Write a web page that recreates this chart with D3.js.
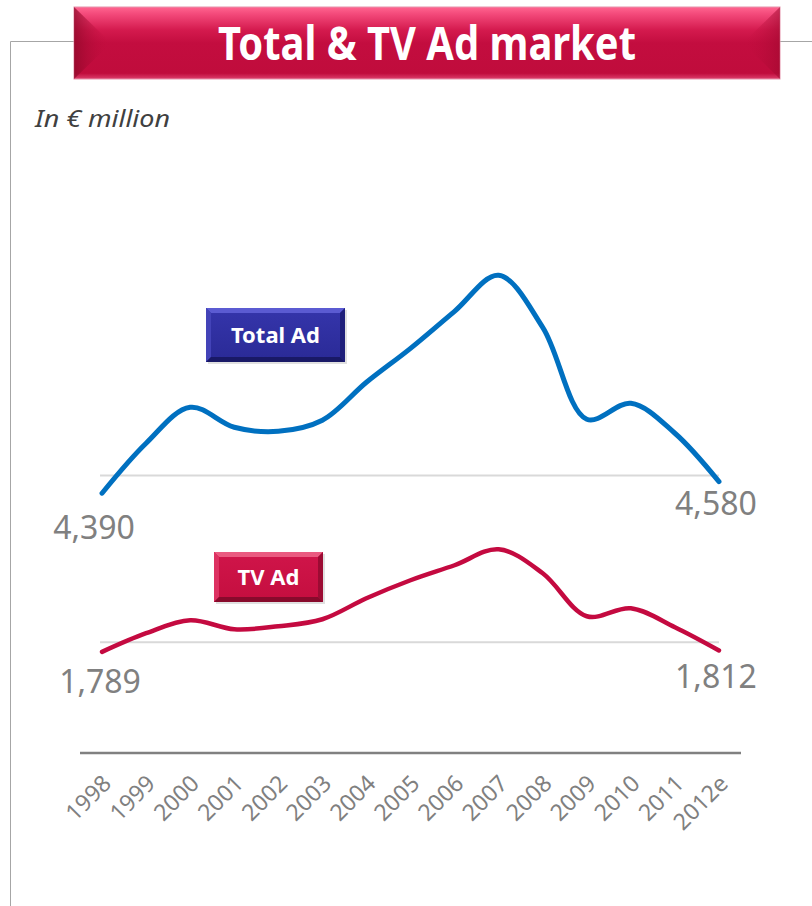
<!DOCTYPE html>
<html>
<head>
<meta charset="utf-8">
<script src="https://cdn.jsdelivr.net/npm/d3@7"></script>
<style>
  html, body { margin: 0; padding: 0; background: #ffffff; }
  svg { display: block; }
</style>
</head>
<body>
<script>
// Years on the horizontal axis (2012 is an estimate)
const years = ["1998", "1999", "2000", "2001", "2002", "2003", "2004", "2005",
               "2006", "2007", "2008", "2009", "2010", "2011", "2012e"];

// Advertising spend, in € million
const totalAd = [4390, 5209, 5799, 5471, 5405, 5586, 6208, 6765,
                 7372, 7962, 7110, 5602, 5864, 5373, 4580];
const tvAd    = [1789, 2095, 2308, 2160, 2209, 2324, 2668, 2963,
                 3209, 3471, 3078, 2373, 2504, 2193, 1812];

// Reference level drawn under each series
const baselineValues = [4680, 1945];

const seriesNames = ["Total Ad", "TV Ad"];
const titleText = "Total & TV Ad market";
const unitText = "In € million";

const W = 812, H = 906;
const svg = d3.select("body").append("svg")
  .attr("width", W).attr("height", H)
  .attr("viewBox", `0 0 ${W} ${H}`);

const defs = svg.append("defs");
function vGrad(id, stops) {
  const g = defs.append("linearGradient").attr("id", id)
    .attr("x1", 0).attr("y1", 0).attr("x2", 0).attr("y2", 1);
  stops.forEach(([o, c, a]) => g.append("stop").attr("offset", o)
    .attr("stop-color", c).attr("stop-opacity", a == null ? 1 : a));
}
function hGrad(id, stops) {
  const g = defs.append("linearGradient").attr("id", id)
    .attr("x1", 0).attr("y1", 0).attr("x2", 1).attr("y2", 0);
  stops.forEach(([o, c, a]) => g.append("stop").attr("offset", o)
    .attr("stop-color", c).attr("stop-opacity", a == null ? 1 : a));
}
vGrad("bannerFace", [[0, "#ff6590"], [0.1, "#f3497a"], [0.32, "#d41a4e"],
                     [0.5, "#c30d3f"], [0.92, "#c00c3c"], [1, "#dc3f6c"]]);
hGrad("bannerLeft", [[0, "#8e0829", 0.75], [1, "#c00c3c", 0]]);
hGrad("bannerRight", [[0, "#c00c3c", 0], [1, "#a0092f", 0.6]]);
vGrad("blueFace", [[0, "#3535ab"], [1, "#2a2a96"]]);
vGrad("redFace", [[0, "#d0154a"], [1, "#c40e3f"]]);

// ---- frame lines ----
svg.append("path")
  .attr("d", `M10.5,${H} V41.5 H${W}`)
  .attr("fill", "none").attr("stroke", "#a6a6a6").attr("stroke-width", 1);

// ---- title banner ----
const bn = { x0: 74, x1: 780, y0: 7, y1: 79, bev: 34 };
const banner = svg.append("g");
banner.append("rect")
  .attr("x", bn.x0).attr("y", bn.y0)
  .attr("width", bn.x1 - bn.x0).attr("height", bn.y1 - bn.y0)
  .attr("fill", "url(#bannerFace)")
  .attr("stroke", "#e693ab").attr("stroke-width", 1);
const midY = (bn.y0 + bn.y1) / 2;
banner.append("polygon")
  .attr("points", [[bn.x0, bn.y0], [bn.x0 + bn.bev, midY - 3], [bn.x0 + bn.bev, midY + 3], [bn.x0, bn.y1]].join(" "))
  .attr("fill", "url(#bannerLeft)");
banner.append("polygon")
  .attr("points", [[bn.x1, bn.y0], [bn.x1 - bn.bev, midY - 3], [bn.x1 - bn.bev, midY + 3], [bn.x1, bn.y1]].join(" "))
  .attr("fill", "url(#bannerRight)");
banner.append("text")
  .attr("x", (bn.x0 + bn.x1) / 2).attr("y", 60)
  .attr("text-anchor", "middle")
  .attr("font-family", "'Noto Sans', 'Open Sans', sans-serif")
  .attr("font-weight", "bold").attr("font-size", 46)
  .attr("fill", "#ffffff")
  .attr("textLength", 418).attr("lengthAdjust", "spacingAndGlyphs")
  .text(titleText);

// ---- unit note ----
svg.append("text")
  .attr("x", 35).attr("y", 127)
  .attr("font-family", "'Noto Sans', 'Open Sans', sans-serif")
  .attr("font-style", "italic").attr("font-size", 23)
  .attr("fill", "#404040")
  .attr("textLength", 135).attr("lengthAdjust", "spacingAndGlyphs")
  .text(unitText);

// ---- scales ----
const x = d3.scalePoint().domain(years).range([80, 741]).padding(0.5);
const y = d3.scaleLinear().domain([0, 8000]).range([761, 273]);

const series = [
  { name: seriesNames[0], values: totalAd, base: baselineValues[0],
    color: "#0070c0", width: 5,
    box: { x: 206, y: 308, w: 139, h: 54, face: "url(#blueFace)",
           top: "#5b5bd2", left: "#4343b8", right: "#1f1f7a", bottom: "#191966" },
    startLabel: { dx: -8, dy: 46 }, endLabel: { dx: -3, dy: 33 } },
  { name: seriesNames[1], values: tvAd, base: baselineValues[1],
    color: "#c40a40", width: 4.5,
    box: { x: 214, y: 552, w: 109, h: 50, face: "url(#redFace)",
           top: "#ea5a80", left: "#dd3262", right: "#9c0b33", bottom: "#880a2c" },
    startLabel: { dx: -2, dy: 41 }, endLabel: { dx: -3, dy: 38 } }
];

// ---- reference levels ----
series.forEach(s => {
  svg.append("line")
    .attr("x1", x(years[0]) - 2).attr("x2", x(years[years.length - 1]))
    .attr("y1", y(s.base)).attr("y2", y(s.base))
    .attr("stroke", "#d9d9d9").attr("stroke-width", 2);
});

// ---- x axis ----
const axis = d3.axisBottom(x).tickSize(0).tickSizeOuter(0);
const axisG = svg.append("g").attr("transform", "translate(0,753)").call(axis);
axisG.select(".domain").attr("stroke", "#808080").attr("stroke-width", 2.5)
  .attr("d", "M80,0H741");
axisG.selectAll(".tick text")
  .attr("x", 0).attr("y", 0).attr("dy", 0)
  .attr("transform", "translate(10,32) rotate(-45)")
  .style("text-anchor", "end")
  .attr("font-family", "'Noto Sans', 'Open Sans', sans-serif")
  .attr("font-size", 23)
  .attr("fill", "#808080");

// ---- lines ----
const line = d3.line()
  .x((d, i) => x(years[i]))
  .y(d => y(d))
  .curve(d3.curveCatmullRom.alpha(0.5));

series.forEach(s => {
  svg.append("path")
    .datum(s.values)
    .attr("d", line)
    .attr("fill", "none")
    .attr("stroke", s.color)
    .attr("stroke-width", s.width)
    .attr("stroke-linecap", "round")
    .attr("stroke-linejoin", "round");
});

// ---- start / end value labels ----
const fmt = d3.format(",");
series.forEach(s => {
  const n = s.values.length - 1;
  [[0, s.startLabel], [n, s.endLabel]].forEach(([i, off]) => {
    svg.append("text")
      .attr("x", x(years[i]) + off.dx)
      .attr("y", y(s.values[i]) + off.dy)
      .attr("text-anchor", "middle")
      .attr("font-family", "'Noto Sans', 'Open Sans', sans-serif")
      .attr("font-size", 32)
      .attr("fill", "#808080")
      .text(fmt(s.values[i]));
  });
});

// ---- bevelled name boxes ----
function bevelBox(b, label) {
  const g = svg.append("g");
  const k = 5, x0 = b.x, y0 = b.y, x1 = b.x + b.w, y1 = b.y + b.h;
  g.append("rect").attr("x", x0 + 2).attr("y", y0 + 2)
    .attr("width", b.w).attr("height", b.h)
    .attr("fill", "#000").attr("opacity", 0.12);
  g.append("rect").attr("x", x0).attr("y", y0)
    .attr("width", b.w).attr("height", b.h).attr("fill", b.face);
  const poly = (pts, fill) => g.append("polygon")
    .attr("points", pts.map(p => p.join(",")).join(" ")).attr("fill", fill);
  poly([[x0, y0], [x1, y0], [x1 - k, y0 + k], [x0 + k, y0 + k]], b.top);
  poly([[x0, y0], [x0 + k, y0 + k], [x0 + k, y1 - k], [x0, y1]], b.left);
  poly([[x1, y0], [x1, y1], [x1 - k, y1 - k], [x1 - k, y0 + k]], b.right);
  poly([[x0, y1], [x0 + k, y1 - k], [x1 - k, y1 - k], [x1, y1]], b.bottom);
  g.append("text")
    .attr("x", (x0 + x1) / 2).attr("y", (y0 + y1) / 2 + 8)
    .attr("text-anchor", "middle")
    .attr("font-family", "'Noto Sans', 'Open Sans', sans-serif")
    .attr("font-weight", "bold").attr("font-size", 22)
    .attr("fill", "#ffffff")
    .text(label);
}
series.forEach(s => bevelBox(s.box, s.name));
</script>
</body>
</html>
